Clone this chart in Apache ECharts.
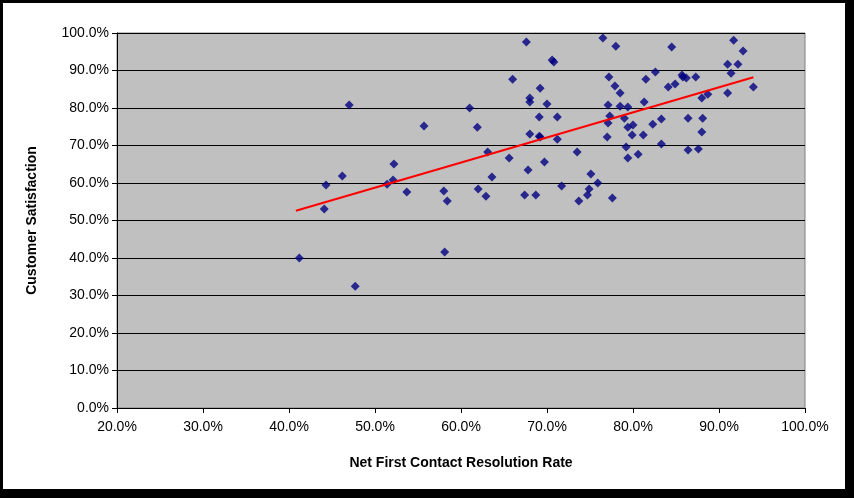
<!DOCTYPE html><html><head><meta charset="utf-8">
<script src="https://cdn.jsdelivr.net/npm/echarts@6/dist/echarts.min.js"></script>
<style>html,body{margin:0;padding:0;background:#000;width:854px;height:498px;overflow:hidden}
#c{position:absolute;left:3px;top:3px;width:842px;height:486px;background:#fff}</style></head><body><div id="c"></div>
<script>
const xValues=[41.2,44.1,44.3,46.2,47.0,47.7,51.4,52.1,52.2,53.7,55.7,58.0,58.4,58.1,61.0,61.9,62.0,62.9,63.1,63.6,65.6,66.0,67.6,68.0,68.0,67.8,67.4,68.7,69.1,68.0,69.1,
76.5,78.0,70.6,70.8,84.5,91.7,92.8,91.0,92.2,91.4,94.0,91.0,69.2,77.2,77.9,78.5,77.1,78.5,79.4,77.3,77.1,79.0,79.4,80.0,77.0,79.9,81.2,82.3,83.3,81.3,81.5,82.6,84.1,84.9,85.7,86.2,87.3,85.8,88.0,88.7,86.4,88.1,88.0,83.3,86.4,87.6,79.2,79.4,80.6,71.2,71.2,69.2,70.0,69.7,73.5,75.1,75.9,71.7,74.9,74.7,73.7,77.6];
const yValues=[40.0,53.1,59.5,61.9,80.8,32.5,59.7,60.8,65.1,57.6,75.2,57.9,55.2,41.6,80.0,74.9,58.4,56.5,68.3,61.6,66.7,87.7,97.6,82.7,81.6,63.5,56.8,56.8,77.6,73.1,72.5,
98.7,96.5,92.8,92.3,96.3,98.1,95.2,91.7,91.7,89.3,85.6,84.0,85.3,88.3,85.9,84.0,80.8,80.5,80.3,77.9,76.0,77.3,74.9,75.5,72.3,72.8,72.8,75.7,77.1,81.6,87.7,89.6,85.6,86.4,88.8,88.0,88.3,88.3,82.7,83.7,77.3,77.3,73.6,70.4,68.8,69.1,69.6,66.7,67.7,77.6,71.7,72.3,81.1,65.6,68.3,62.4,60.0,59.2,58.4,56.8,55.2,56.0];
const trendX=[40.8,94.0], trendY=[52.6,88.2];
const xTicks=[20,30,40,50,60,70,80,90,100], yTicks=[0,10,20,30,40,50,60,70,80,90,100];
const f='Arial, "Liberation Sans", sans-serif';
const ch=echarts.init(document.getElementById('c'));
ch.setOption({animation:false,
grid:{left:114,right:40,top:30,bottom:81,backgroundColor:'#C0C0C0',show:true,borderColor:'#808080',borderWidth:1},
xAxis:{type:'value',min:20,max:100,interval:10,name:'Net First Contact Resolution Rate',nameLocation:'middle',nameGap:48,
 nameTextStyle:{fontFamily:f,fontWeight:'bold',fontSize:14,color:'#000'},
 axisLine:{lineStyle:{color:'#000'}},axisTick:{show:true,inside:false,length:5,lineStyle:{color:'#000'}},splitLine:{show:false},
 axisLabel:{fontFamily:f,fontSize:14,color:'#000',formatter:v=>v.toFixed(1)+'%',margin:12}},
yAxis:{type:'value',min:0,max:100,interval:10,name:'Customer Satisfaction',nameLocation:'middle',nameGap:78,
 nameTextStyle:{fontFamily:f,fontWeight:'bold',fontSize:14,color:'#000'},
 axisLine:{show:true,lineStyle:{color:'#000'}},axisTick:{show:true,length:5,lineStyle:{color:'#000'}},
 splitLine:{lineStyle:{color:'#000',width:1}},
 axisLabel:{fontFamily:f,fontSize:14,color:'#000',formatter:v=>v.toFixed(1)+'%',margin:8}},
series:[{type:'scatter',symbol:'diamond',symbolSize:9,itemStyle:{color:'#000080'},data:xValues.map((x,i)=>[x,yValues[i]])},
{type:'line',symbol:'none',lineStyle:{color:'#FF0000',width:2},data:trendX.map((x,i)=>[x,trendY[i]])}]});
</script></body></html>
